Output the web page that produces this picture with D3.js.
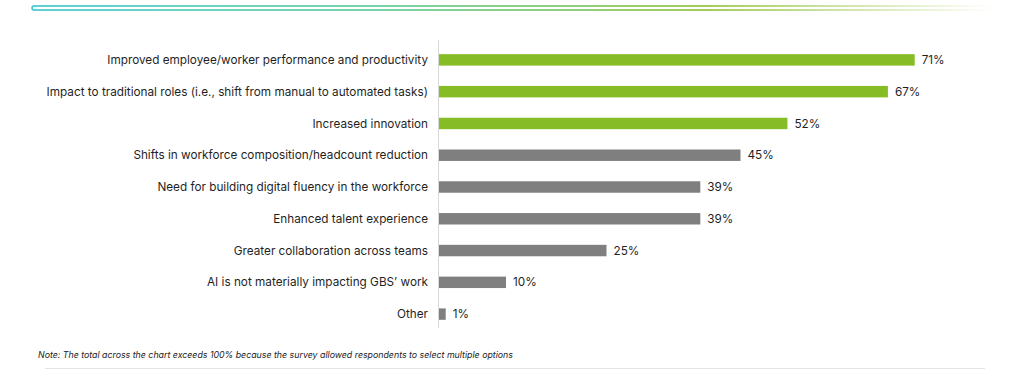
<!DOCTYPE html>
<html>
<head>
<meta charset="utf-8">
<script src="https://cdn.jsdelivr.net/npm/d3@7"></script>
<style>
  body { margin: 0; background: #fff; }
  svg { display: block; font-family: Inter, "Noto Sans", sans-serif; }
</style>
</head>
<body>
<svg class="bar-chart"></svg>
<script>
const categories = [
  "Improved employee/worker performance and productivity",
  "Impact to traditional roles (i.e., shift from manual to automated tasks)",
  "Increased innovation",
  "Shifts in workforce composition/headcount reduction",
  "Need for building digital fluency in the workforce",
  "Enhanced talent experience",
  "Greater collaboration across teams",
  "AI is not materially impacting GBS\u2019 work",
  "Other"
];
const values = [71, 67, 52, 45, 39, 39, 25, 10, 1];
const highlighted = [true, true, true, false, false, false, false, false, false];
const note = "Note: The total across the chart exceeds 100% because the survey allowed respondents to select multiple options";

const svgWidth = 1024, svgHeight = 371;
const margin = { top: 44, left: 439, bottom: 41 };

const svg = d3.select('svg.bar-chart')
  .attr('width', svgWidth)
  .attr('height', svgHeight);

// top decorative rule
const defs = svg.append('defs');
const grad = defs.append('linearGradient').attr('id', 'topGrad');
grad.append('stop').attr('offset', '0%').attr('stop-color', '#2cc2c9');
grad.append('stop').attr('offset', '35%').attr('stop-color', '#4cc690');
grad.append('stop').attr('offset', '70%').attr('stop-color', '#86bc25');
grad.append('stop').attr('offset', '100%').attr('stop-color', '#86bc25').attr('stop-opacity', 0);

svg.append('rect')
  .attr('x', 32).attr('y', 6)
  .attr('width', 963).attr('height', 4)
  .attr('rx', 2)
  .attr('fill', 'none')
  .attr('stroke', 'url(#topGrad)')
  .attr('stroke-width', 1.5);

const x = d3.scaleLinear()
  .domain([0, 100])
  .range([margin.left, margin.left + 670]);

const y = d3.scaleBand()
  .domain(categories)
  .range([margin.top, svgHeight - margin.bottom])
  .paddingInner(0.64)
  .paddingOuter(0.32);

// axis line
svg.append('line')
  .attr('x1', margin.left - 0.5).attr('x2', margin.left - 0.5)
  .attr('y1', 40).attr('y2', 328)
  .attr('stroke', '#d9d9d9')
  .attr('stroke-width', 1);

svg.append('g')
  .selectAll('rect')
  .data(values)
  .join('rect')
  .attr('x', x(0))
  .attr('y', (d, i) => y(categories[i]))
  .attr('width', d => x(d) - x(0))
  .attr('height', y.bandwidth())
  .attr('fill', (d, i) => highlighted[i] ? '#86bc25' : '#7f7f7f');

svg.append('g')
  .selectAll('text')
  .data(categories)
  .join('text')
  .attr('x', 428)
  .attr('y', d => y(d) + y.bandwidth() / 2)
  .attr('dy', '0.35em')
  .attr('text-anchor', 'end')
  .attr('font-size', 11.75)
  .attr('fill', '#1f1f1f')
  .text(d => d);

svg.append('g')
  .selectAll('text')
  .data(values)
  .join('text')
  .attr('x', d => x(d) + 7)
  .attr('y', (d, i) => y(categories[i]) + y.bandwidth() / 2)
  .attr('dy', '0.35em')
  .attr('font-size', 11.75)
  .attr('font-weight', 400)
  .attr('fill', '#1f1f1f')
  .text(d => d + '%');

svg.append('text')
  .attr('x', 38).attr('y', 358)
  .attr('font-size', 8.8)
  .attr('font-style', 'italic')
  .attr('fill', '#222')
  .text(note);

svg.append('line')
  .attr('x1', 45).attr('x2', 985)
  .attr('y1', 368.5).attr('y2', 368.5)
  .attr('stroke', '#e3e3e3')
  .attr('stroke-width', 1);
</script>
</body>
</html>
